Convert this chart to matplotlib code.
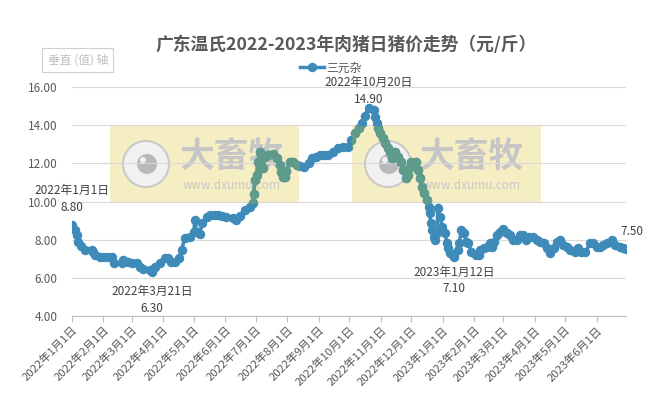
import matplotlib
matplotlib.use("Agg")
import matplotlib.pyplot as plt
from matplotlib.patches import Rectangle, Circle
import pandas as pd

plt.rcParams['font.family'] = ['Noto Sans CJK SC', 'DejaVu Sans']

# ── Data ─────────────────────────────────────────────────────────
dates = [
    "2022-01-01", "2022-01-04", "2022-01-06", "2022-01-07", "2022-01-10", "2022-01-14",
    "2022-01-21", "2022-01-22", "2022-01-24", "2022-01-29", "2022-02-02", "2022-02-06",
    "2022-02-10", "2022-02-12", "2022-02-19", "2022-02-20", "2022-02-25", "2022-03-01",
    "2022-03-06", "2022-03-09", "2022-03-12", "2022-03-19", "2022-03-21", "2022-03-24",
    "2022-03-29", "2022-04-03", "2022-04-06", "2022-04-09", "2022-04-13", "2022-04-16",
    "2022-04-19", "2022-04-22", "2022-04-27", "2022-05-01", "2022-05-02", "2022-05-04",
    "2022-05-07", "2022-05-09", "2022-05-14", "2022-05-17", "2022-05-21", "2022-05-25",
    "2022-05-29", "2022-06-02", "2022-06-09", "2022-06-12", "2022-06-15", "2022-06-20",
    "2022-06-25", "2022-06-28", "2022-06-29", "2022-06-30", "2022-07-02", "2022-07-03",
    "2022-07-05", "2022-07-07", "2022-07-08", "2022-07-10", "2022-07-13", "2022-07-18",
    "2022-07-22", "2022-07-25", "2022-07-26", "2022-07-28", "2022-07-30", "2022-07-31",
    "2022-08-04", "2022-08-07", "2022-08-10", "2022-08-13", "2022-08-17", "2022-08-22",
    "2022-08-25", "2022-08-29", "2022-09-02", "2022-09-06", "2022-09-10", "2022-09-15",
    "2022-09-20", "2022-09-25", "2022-09-30", "2022-10-03", "2022-10-07", "2022-10-10",
    "2022-10-13", "2022-10-16", "2022-10-20", "2022-10-25", "2022-10-26", "2022-10-28",
    "2022-10-29", "2022-10-31", "2022-11-03", "2022-11-05", "2022-11-08", "2022-11-10",
    "2022-11-12", "2022-11-15", "2022-11-18", "2022-11-21", "2022-11-23", "2022-11-26",
    "2022-11-28", "2022-11-30", "2022-12-01", "2022-12-05", "2022-12-07", "2022-12-09",
    "2022-12-11", "2022-12-13", "2022-12-16", "2022-12-18", "2022-12-19", "2022-12-20",
    "2022-12-21", "2022-12-23", "2022-12-24", "2022-12-26", "2022-12-27", "2022-12-29",
    "2022-12-31", "2023-01-03", "2023-01-05", "2023-01-06", "2023-01-08", "2023-01-11",
    "2023-01-12", "2023-01-16", "2023-01-17", "2023-01-19", "2023-01-22", "2023-01-24",
    "2023-01-26", "2023-01-29", "2023-02-02", "2023-02-05", "2023-02-06", "2023-02-10",
    "2023-02-13", "2023-02-16", "2023-02-18", "2023-02-20", "2023-02-23", "2023-02-26",
    "2023-03-01", "2023-03-05", "2023-03-08", "2023-03-11", "2023-03-15", "2023-03-18",
    "2023-03-21", "2023-03-24", "2023-03-27", "2023-03-31", "2023-04-03", "2023-04-06",
    "2023-04-10", "2023-04-13", "2023-04-16", "2023-04-20", "2023-04-23", "2023-04-26",
    "2023-04-29", "2023-05-03", "2023-05-06", "2023-05-11", "2023-05-14", "2023-05-17",
    "2023-05-21", "2023-05-26", "2023-05-29", "2023-06-01", "2023-06-04", "2023-06-07",
    "2023-06-11", "2023-06-16", "2023-06-19", "2023-06-24", "2023-06-27", "2023-06-30",
]
prices = [
    8.80, 8.52, 8.26, 7.91, 7.68, 7.47,
    7.47, 7.38, 7.21, 7.10, 7.10, 7.10,
    7.10, 6.79, 6.79, 6.95, 6.85, 6.81,
    6.81, 6.60, 6.46, 6.43, 6.30, 6.60,
    6.78, 7.04, 7.04, 6.86, 6.86, 7.04,
    7.47, 8.08, 8.17, 8.43, 9.04, 8.40,
    8.30, 8.87, 9.21, 9.30, 9.30, 9.30,
    9.25, 9.21, 9.13, 9.04, 9.25, 9.56,
    9.70, 9.91, 10.40, 11.13, 11.40, 12.08,
    12.60, 12.26, 11.74, 12.34, 12.43, 12.50,
    12.26, 11.91, 11.56, 11.30, 11.30, 11.60,
    12.08, 12.08, 11.93, 11.85, 11.82, 12.00,
    12.26, 12.35, 12.43, 12.43, 12.43, 12.60,
    12.78, 12.87, 12.87, 13.22, 13.57, 13.83,
    14.09, 14.47, 14.90, 14.78, 14.43, 14.09,
    13.83, 13.57, 13.31, 13.04, 12.78, 12.60,
    12.26, 12.60, 12.34, 12.08, 11.65, 11.22,
    11.39, 11.82, 12.08, 12.08, 11.65, 11.22,
    10.78, 10.43, 10.08, 9.73, 9.39, 8.87,
    8.52, 8.17, 7.99, 8.34, 9.65, 9.21,
    8.69, 8.34, 7.82, 7.56, 7.30, 7.21,
    7.10, 7.47, 7.82, 8.52, 8.34, 7.90,
    7.82, 7.38, 7.21, 7.21, 7.47, 7.56,
    7.64, 7.82, 7.64, 7.90, 8.26, 8.43,
    8.55, 8.34, 8.26, 7.99, 7.99, 8.26,
    8.26, 7.99, 8.17, 8.17, 7.99, 7.90,
    7.82, 7.56, 7.30, 7.56, 7.90, 7.99,
    7.73, 7.64, 7.47, 7.38, 7.56, 7.38,
    7.38, 7.82, 7.82, 7.64, 7.64, 7.73,
    7.82, 7.99, 7.73, 7.64, 7.56, 7.50,
]

callout_dates = ["2022-01-01", "2022-03-21", "2022-10-20", "2023-01-12"]
callout_values = [8.80, 6.30, 14.90, 7.10]
callout_labels = ["2022年1月1日", "2022年3月21日", "2022年10月20日", "2023年1月12日"]

x = pd.to_datetime(dates)

LINE = "#3E8BBA"
INBOX = "#5E9B8A"
TXT = "#595959"

fig = plt.figure(figsize=(6.66, 3.93), dpi=100)
ax = fig.add_axes([0.1077, 0.1947, 0.8323, 0.5847])

# ── Watermark boxes (in inches, under the line) ──────────────────
boxes = []
for bx, logo_x, text_x in [(1.10, 1.46, 2.32), (3.52, 3.88, 4.72)]:
    r = Rectangle((bx, 1.90), 1.89, 0.77, transform=fig.dpi_scale_trans,
                  facecolor="#F6EEC3", edgecolor="none", zorder=1)
    fig.add_artist(r)
    boxes.append(r)
    fig.add_artist(Circle((logo_x, 2.29), 0.23, transform=fig.dpi_scale_trans,
                          facecolor="#F1F1F1", edgecolor="#C9C9C9", lw=1.5, zorder=1.1))
    fig.add_artist(Circle((logo_x + 0.01, 2.29), 0.10, transform=fig.dpi_scale_trans,
                          facecolor="#B9B9B9", edgecolor="none", zorder=1.2))
    fig.add_artist(Circle((logo_x - 0.03, 2.33), 0.03, transform=fig.dpi_scale_trans,
                          facecolor="#F1F1F1", edgecolor="none", zorder=1.3))
    fig.text(text_x / 6.66, (3.93 - 1.56) / 3.93, "大畜牧", fontsize=25,
             fontweight="bold", color="#C6C6C6", ha="center", va="center", zorder=1.2)
    fig.text(text_x / 6.66, (3.93 - 1.86) / 3.93, "www.dxumu.com", fontsize=8.5,
             color="#C8C8C8", ha="center", va="center", zorder=1.2)

ax.set_facecolor("none")
ax.set_zorder(2)

# ── Series ──────────────────────────────────────────────────────
ax.plot(x, prices, color=LINE, lw=2.5, marker="o", ms=5.8, mec=LINE, mfc=LINE,
        zorder=3, label="三元杂")
for r in boxes:
    ln, = ax.plot(x, prices, color=INBOX, lw=2.5, marker="o", ms=5.8,
                  mec=INBOX, mfc=INBOX, zorder=3.5)
    ln.set_clip_path(r)

# ── Callouts (date line + value line as separate texts) ─────────
# (value offset, date offset) in points from the point
offsets = [(7.5, 20), (-9, -21), (1, 13.5), (-6, -18)]
for d, v, lab, (ov, od) in zip(callout_dates, callout_values, callout_labels, offsets):
    va = "bottom" if ov > 0 else "top"
    ax.annotate(f"{v:.2f}", (pd.Timestamp(d), v), xytext=(0, ov if ov > 0 else od),
                textcoords="offset points", ha="center", va=va, fontsize=8.5,
                color="#404040", zorder=5)
    ax.annotate(lab, (pd.Timestamp(d), v), xytext=(0, od if ov > 0 else ov),
                textcoords="offset points", ha="center", va=va, fontsize=8.5,
                color="#404040", zorder=5)
ax.annotate(f"{prices[-1]:.2f}", (x[-1], prices[-1]), xytext=(4, 8),
            textcoords="offset points", ha="center", va="bottom", fontsize=8.5,
            color="#404040", zorder=5)

# ── Axes ────────────────────────────────────────────────────────
ax.set_ylim(4, 16)
ax.set_yticks(range(4, 17, 2))
ax.set_yticklabels([f"{v:.2f}" for v in range(4, 17, 2)])
ax.set_xlim(pd.Timestamp("2022-01-01"), pd.Timestamp("2023-06-30"))
month_ticks = pd.date_range("2022-01-01", "2023-06-01", freq="MS")
ax.set_xticks(month_ticks)
ax.set_xticklabels([f"{d.year}年{d.month}月1日" for d in month_ticks],
                   rotation=45, ha="right", rotation_mode="anchor")

ax.grid(axis="y", color="#D9D9D9", lw=0.8, zorder=0)
for s in ["top", "right", "left"]:
    ax.spines[s].set_visible(False)
ax.spines["bottom"].set_color("#BFBFBF")
ax.spines["bottom"].set_linewidth(0.8)
ax.tick_params(axis="y", length=0, pad=10, labelsize=8.5, labelcolor=TXT)
ax.tick_params(axis="x", length=4, color="#BFBFBF", pad=2, labelsize=8.2, labelcolor=TXT)

# ── Title, legend, axis tag ─────────────────────────────────────
fig.text(0.519, 0.885, "广东温氏2022-2023年肉猪日猪价走势（元/斤）", ha="center",
         va="center", fontsize=12.8, fontweight="bold", color=TXT)
ax.legend(loc="center", bbox_to_anchor=(0.497, 0.827), bbox_transform=fig.transFigure,
          frameon=False, fontsize=8.5, handlelength=2.0, handletextpad=0.2,
          labelcolor=TXT)
fig.text(0.117, 0.848, "垂直 (值) 轴", ha="center", va="center", fontsize=8.5,
         color="#BFBFBF",
         bbox=dict(boxstyle="square,pad=0.45", fc="white", ec="#CFCFCF", lw=0.8))

fig.savefig("out.png", dpi=100)
